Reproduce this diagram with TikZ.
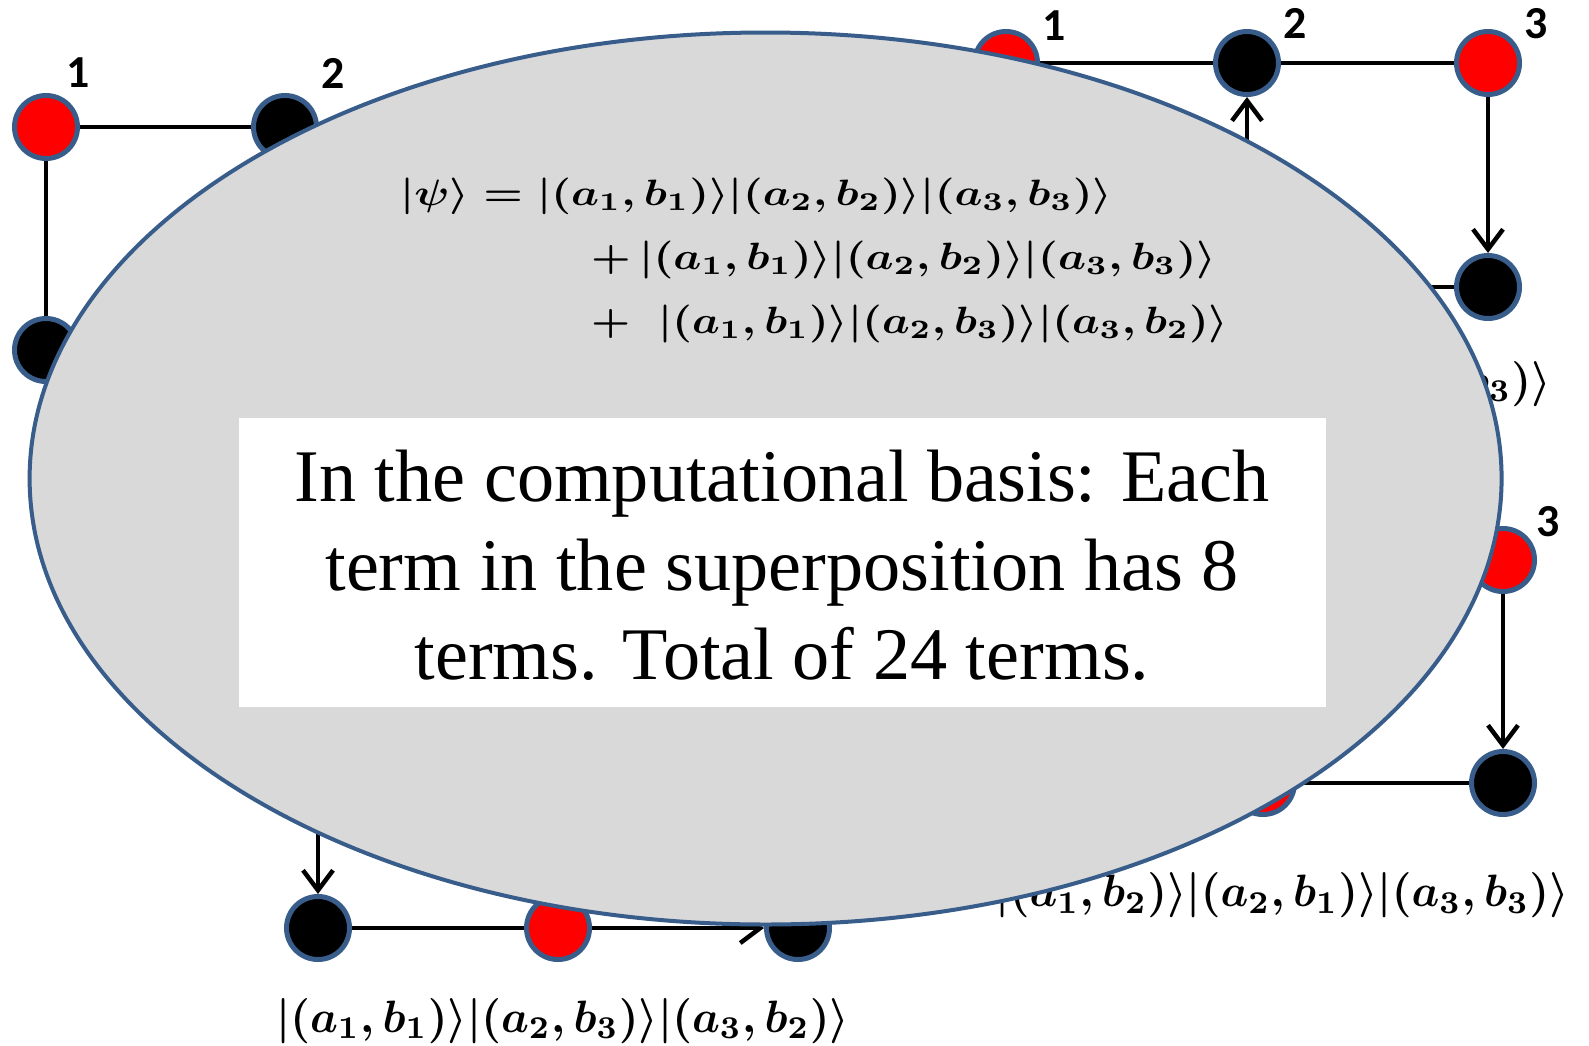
\documentclass[tikz,border=0pt]{standalone}
\usepackage{amsmath}
\usepackage{graphicx}
\usepackage{fontspec}
\setmainfont{Liberation Serif}
\newfontfamily\digitfont{Carlito}
\usetikzlibrary{arrows.meta}
\definecolor{nodeborder}{RGB}{56,93,138}
\definecolor{ellfill}{RGB}{217,217,217}
\tikzset{
  blknode/.style={circle, draw=nodeborder, line width=5bp, fill=black, minimum size=63bp, inner sep=0pt},
  rednode/.style={blknode, fill=red},
  conn/.style={line width=4.5bp, black},
  arr/.style={conn, -{Straight Barb[length=20bp,width=30bp,line width=4.5bp]}},
  digitlabel/.style={font=\digitfont\bfseries\fontsize{46}{46}\selectfont, inner sep=0pt},
  eqlabel/.style={inner sep=0pt},
  maintext/.style={inner sep=0pt, anchor=base, font=\fontsize{74.5}{89}\selectfont}
}
\begin{document}
\begin{tikzpicture}[x=1bp, y=-1bp]
\useasboundingbox (0,0) rectangle (1589,1045);
\fill[white] (0,0) rectangle (1589,1045);

% ---------- outer labels (partly hidden) ----------
\node[eqlabel, anchor=base east] (lab1) at (1551,395)
  {\resizebox{573bp}{34bp}{\boldmath$|(a_1,b_1)\rangle|(a_2,b_2)\rangle|(a_3,b_3)\rangle$}};
\node[eqlabel, anchor=base east] (lab2) at (1569,906.5)
  {\resizebox{573bp}{34bp}{\boldmath$|(a_1,b_2)\rangle|(a_2,b_1)\rangle|(a_3,b_3)\rangle$}};
\node[eqlabel, anchor=base west] (lab3) at (276,1032)
  {\resizebox{573bp}{34bp}{\boldmath$|(a_1,b_1)\rangle|(a_2,b_3)\rangle|(a_3,b_2)\rangle$}};

% ---------- graph A (top left) ----------
\node[rednode] (A1) at (46,127) {};
\node[blknode] (A2) at (285,127) {};
\node[blknode] (A4) at (46,350) {};
\node[digitlabel] (A1l) at (78,73) {1};
\node[digitlabel] (A2l) at (333,73) {2};
\draw[conn] (A1) -- (A2);
\draw[conn] (A1) -- (A4);

% ---------- graph B (top right) ----------
\node[rednode] (B1) at (1006,63) {};
\node[blknode] (B2) at (1247,63) {};
\node[rednode] (B3) at (1488,63) {};
\node[blknode] (B6) at (1488,287) {};
\coordinate (B5) at (1247,287);
\node[digitlabel] (B1l) at (1054,26) {1};
\node[digitlabel] (B2l) at (1295,23) {2};
\node[digitlabel] (B3l) at (1536,24) {3};
\draw[conn] (B1) -- (B2);
\draw[conn] (B2) -- (B3);
\draw[arr] (B3) -- (B6);
\draw[conn] (B6) -- (B5);
\draw[arr] (B5) -- (B2);

% ---------- graph C (bottom right) ----------
\node[rednode] (C3) at (1503,560) {};
\node[blknode] (C6) at (1503,783) {};
\node[rednode] (C5) at (1263,783) {};
\node[digitlabel] (C3l) at (1548,522) {3};
\draw[arr] (C3) -- (C6);
\draw[conn] (C6) -- (C5);

% ---------- graph D (bottom left) ----------
\coordinate (D1) at (318,705);
\node[blknode] (D4) at (318,928) {};
\node[rednode] (D5) at (558,928) {};
\node[blknode] (D6) at (798,928) {};
\draw[arr] (D1) -- (D4);
\draw[conn] (D4) -- (D5);
\draw[arr] (D5) -- (D6);

% ---------- big ellipse ----------
\draw[line width=4bp, draw=nodeborder, fill=ellfill] (765.6,478.5) ellipse [x radius=736, y radius=446];

% ---------- equations inside ellipse ----------
\node[eqlabel, anchor=base west] (eq1) at (400,205)
  {\resizebox{712bp}{27.5bp}{\boldmath$|\psi\rangle = |(a_1,b_1)\rangle|(a_2,b_2)\rangle|(a_3,b_3)\rangle$}};
\node[eqlabel, anchor=base west] (eq2) at (591,269)
  {\resizebox{625bp}{28.5bp}{\boldmath$+\,|(a_1,b_1)\rangle|(a_2,b_2)\rangle|(a_3,b_3)\rangle$}};
\node[eqlabel, anchor=base west] (eq3) at (591,333)
  {\resizebox{637bp}{28.5bp}{\boldmath$+\;\;|(a_1,b_1)\rangle|(a_2,b_3)\rangle|(a_3,b_2)\rangle$}};

% ---------- white text box ----------
\fill[white] (239,417.5) rectangle (1325.5,707.4);
\node[maintext] (t1) at (782,501.6) {In the computational basis: Each};
\node[maintext] (t2) at (782,590.5) {term in the superposition has 8};
\node[maintext] (t3) at (782,679) {terms. Total of 24 terms.};
\end{tikzpicture}
\end{document}
